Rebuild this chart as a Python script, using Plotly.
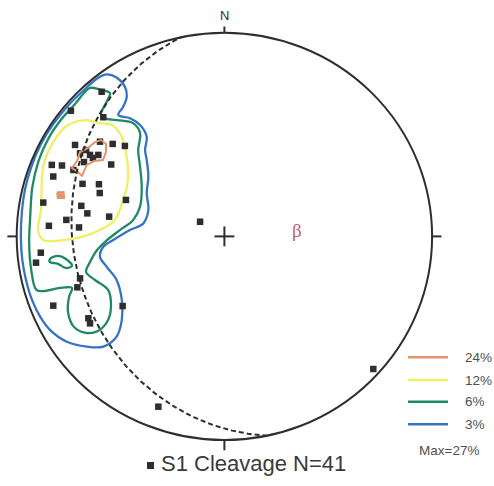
import numpy as np
import plotly.graph_objects as go

# ---- data -------------------------------------------------------------
# S1 cleavage poles on the lower-hemisphere equal-area net
# (east, north) in net units, primitive circle radius = 100
pole_east = [-59.1, -73.9, -58.3, -71.9, -59.9, -53.8, -47.9, -69.5, -64.7, -60.7,
             -83.1, -78.2, -72.7, -54.5, -82.4, -68.3, -60.4, -60.0, -78.9, -87.2,
             -68.9, -66.0, -47.4, -76.1, -55.5, -84.5, -70.0, -88.4, -90.7, -69.5,
             -70.8, -82.4, -49.0, -65.5, -64.7, -11.7, 71.7, -31.8, -66.6, -67.6,
             -63.3]
pole_north = [71.0, 61.7, 58.5, 44.9, 46.5, 45.4, 44.4, 40.8, 40.0, 40.0,
              35.1, 34.8, 32.6, 35.3, 29.4, 25.8, 25.6, 21.3, 20.3, 16.6,
              15.0, 11.3, 17.9, 8.1, 9.7, 5.2, 4.4, -8.0, -12.9, -20.6,
              -25.0, -34.0, -34.2, -40.2, -42.7, 7.2, -65.1, -83.6, 42.4, 36.5,
              38.5]

# density contour rings (east, north)
ring_3pct = [(-60.9, 77.8), (-56.7, 79.5), (-51.9, 78.0), (-47.9, 73.5), (-47.0, 68.6),
             (-48.7, 63.7), (-51.1, 59.6), (-45.5, 58.0), (-40.6, 54.7), (-37.4, 48.9),
             (-38.2, 42.4), (-37.4, 37.5), (-36.6, 29.3), (-37.4, 21.2), (-36.6, 13.0),
             (-39.0, 6.4), (-45.5, 3.1), (-53.5, -1.8), (-58.3, -5.1), (-59.9, -10.0),
             (-56.7, -14.9), (-51.9, -21.4), (-49.4, -31.2), (-49.4, -41.0), (-51.9, -49.2),
             (-58.3, -54.1), (-66.3, -54.1), (-75.9, -51.7), (-84.0, -45.9), (-88.5, -39.8),
             (-92.5, -31.5), (-95.5, -21.5), (-97.3, -11.5), (-98.0, 0.0), (-97.5, 12.0),
             (-96.0, 23.0), (-93.0, 34.0), (-88.5, 45.0), (-82.5, 55.0), (-75.0, 64.5),
             (-67.5, 72.0), (-60.9, 77.8)]
ring_6pct = [(-64.7, 72.9), (-59.4, 71.9), (-55.1, 70.4), (-57.0, 65.5), (-59.4, 60.1),
             (-58.0, 58.1), (-51.7, 57.1), (-44.0, 55.6), (-40.6, 50.8), (-41.5, 42.4),
             (-40.6, 34.2), (-39.8, 24.4), (-40.6, 14.6), (-43.9, 8.1), (-50.3, 3.1),
             (-56.5, -1.8), (-61.3, -6.7), (-64.7, -12.6), (-66.6, -17.5), (-62.3, -21.4),
             (-56.0, -26.3), (-54.6, -33.7), (-56.0, -41.0), (-60.9, -46.4), (-66.6, -47.4),
             (-72.4, -44.5), (-75.3, -37.1), (-74.8, -29.7), (-73.4, -25.3), (-79.2, -25.3),
             (-86.4, -26.8), (-90.5, -26.3), (-93.0, -16.5), (-94.0, -3.2), (-93.5, 9.5),
             (-92.5, 24.0), (-89.5, 37.0), (-84.5, 48.5), (-78.5, 57.5), (-71.5, 65.5),
             (-67.5, 70.5), (-64.7, 72.9)]
ring_6pct_inner = [(-84.0, -11.1), (-80.1, -9.6), (-76.3, -11.1), (-73.4, -14.5),
                   (-76.3, -15.5), (-80.1, -13.5), (-84.0, -12.6), (-84.0, -11.1)]
ring_12pct = [(-66.6, 57.1), (-59.9, 55.6), (-54.1, 54.7), (-49.4, 48.9), (-47.4, 40.9),
              (-46.4, 32.6), (-46.9, 24.3), (-49.3, 16.4), (-52.7, 8.1), (-59.9, 3.1),
              (-68.1, -0.1), (-77.7, -1.8), (-87.3, -1.8), (-89.7, 3.1), (-88.3, 13.0),
              (-88.0, 24.3), (-87.3, 34.1), (-84.0, 43.4), (-80.1, 49.8), (-75.3, 54.7),
              (-66.6, 57.1)]
ring_24pct = [(-62.3, 46.3), (-59.4, 47.3), (-57.0, 45.4), (-57.0, 41.4), (-58.5, 37.5),
              (-62.8, 37.0), (-66.2, 35.1), (-68.6, 29.7), (-70.5, 31.6), (-73.4, 33.6),
              (-71.0, 37.0), (-69.5, 41.4), (-65.7, 43.4), (-62.3, 46.3)]
ring_24pct_small = [(-80.5, 21.6), (-77.4, 21.8), (-77.2, 19.0), (-80.2, 18.8), (-80.5, 21.6)]

contour_labels = ["24%", "12%", "6%", "3%"]
contour_colors = ["#e0956a", "#eef064", "#1f8a62", "#3574c4"]

# best-fit girdle (pi-circle) and its pole beta
girdle_dip_direction = 258.0
girdle_dip = 28.0

max_density = "Max=27%"
data_label = "S1 Cleavage N=41"

# ---- equal-area projection --------------------------------------------
def project(trend, plunge):
    t = np.radians(trend)
    r = 100 * np.sqrt(2) * np.sin(np.radians(90 - np.asarray(plunge)) / 2)
    return r * np.sin(t), r * np.cos(t)


def great_circle(dip_direction, dip, n=181):
    dd = np.radians(dip_direction)
    d = np.radians(dip)
    s = dd - np.pi / 2
    strike_v = np.array([np.sin(s), np.cos(s), 0.0])
    dip_v = np.array([np.sin(dd) * np.cos(d), np.cos(dd) * np.cos(d), np.sin(d)])
    ang = np.linspace(0, np.pi, n)
    v = np.outer(np.cos(ang), strike_v) + np.outer(np.sin(ang), dip_v)
    plunge = np.degrees(np.arcsin(np.clip(v[:, 2], -1, 1)))
    trend = np.degrees(np.arctan2(v[:, 0], v[:, 1]))
    return project(trend, plunge)


W, H = 494, 486
ink = "#2e2e2e"
text_grey = "#505050"
fig = go.Figure()

# contours
rings = [
    (ring_3pct, contour_colors[3]),
    (ring_6pct, contour_colors[2]),
    (ring_6pct_inner, contour_colors[2]),
    (ring_12pct, contour_colors[1]),
]
for ring, col in rings:
    xs, ys = zip(*ring)
    fig.add_trace(go.Scatter(x=xs, y=ys, mode="lines", line=dict(color=col, width=2.3),
                             line_shape="spline", hoverinfo="skip", showlegend=False))

# poles
fig.add_trace(go.Scatter(x=pole_east, y=pole_north, mode="markers",
                         marker=dict(symbol="square", size=6.5, color=ink),
                         hoverinfo="skip", showlegend=False))

# 24% contours on top of the densest cluster
for ring, filled in [(ring_24pct, False), (ring_24pct_small, True)]:
    xs, ys = zip(*ring)
    fig.add_trace(go.Scatter(x=xs, y=ys, mode="lines", line=dict(color=contour_colors[0], width=2),
                             fill="toself" if filled else None,
                             fillcolor=contour_colors[0] if filled else None,
                             hoverinfo="skip", showlegend=False))

# girdle great circle
gx, gy = great_circle(girdle_dip_direction, girdle_dip)
fig.add_trace(go.Scatter(x=gx, y=gy, mode="lines",
                         line=dict(color=ink, width=2, dash="5px,3px"),
                         hoverinfo="skip", showlegend=False))

# primitive circle, cardinal ticks and centre cross
shapes = [dict(type="circle", xref="x", yref="y", x0=-100, x1=100, y0=-100, y1=100,
               line=dict(color=ink, width=2))]
for x0, y0, x1, y1 in [(0, 100, 0, 103), (0, -100, 0, -105), (-100, 0, -104.5, 0), (100, 0, 104.5, 0),
                       (-4.8, 0, 4.8, 0), (0, -4.9, 0, 4.9)]:
    shapes.append(dict(type="line", xref="x", yref="y", x0=x0, y0=y0, x1=x1, y1=y1,
                       line=dict(color=ink, width=2)))

# legend swatches
legend_y = [357.3, 380, 401.7, 424.3]
for lbl, col, py in zip(contour_labels, contour_colors, legend_y):
    yp = 1 - py / H
    shapes.append(dict(type="line", xref="paper", yref="paper", x0=408 / W, x1=448 / W,
                       y0=yp, y1=yp, line=dict(color=col, width=2.5)))
# symbol for the data label
shapes.append(dict(type="rect", xref="paper", yref="paper", x0=147 / W, x1=154 / W,
                   y0=1 - 469 / H, y1=1 - 462 / H, fillcolor=ink, line=dict(width=0)))

annotations = [
    dict(x=0, y=108.5, xref="x", yref="y", text="N", showarrow=False,
         font=dict(family="Arial, Liberation Sans", size=13, color=ink)),
]
bx, by = project(girdle_dip_direction - 180, 90 - girdle_dip)
annotations.append(dict(x=float(bx), y=float(by), xref="x", yref="y", text="β", showarrow=False,
                        xshift=3, yshift=-9,
                        font=dict(family="Liberation Serif, Times New Roman", size=19, color="#c0606e")))
for lbl, py in zip(contour_labels, legend_y):
    annotations.append(dict(x=463 / W, y=1 - py / H, xref="paper", yref="paper", text=lbl,
                            showarrow=False, xanchor="left", yanchor="middle",
                            font=dict(family="Arial, Liberation Sans", size=13.5, color=text_grey)))
annotations.append(dict(x=448.5 / W, y=1 - 450 / H, xref="paper", yref="paper", text=max_density,
                        showarrow=False, xanchor="center", yanchor="middle",
                        font=dict(family="Arial, Liberation Sans", size=13.5, color=text_grey)))
annotations.append(dict(x=159 / W, y=1 - 463 / H, xref="paper", yref="paper", text=data_label,
                        showarrow=False, xanchor="left", yanchor="middle",
                        font=dict(family="Arial, Liberation Sans", size=22, color="#3a3a3a")))

sx, sy = 2.077, 2.037
cx, cy = 224.4, 236.4
fig.update_layout(
    width=W, height=H, margin=dict(l=0, r=0, t=0, b=0),
    paper_bgcolor="white", plot_bgcolor="white",
    xaxis=dict(range=[-cx / sx, (W - cx) / sx], visible=False, fixedrange=True),
    yaxis=dict(range=[(cy - H) / sy, cy / sy], visible=False, fixedrange=True),
    shapes=shapes, annotations=annotations, showlegend=False,
)
fig.write_html("out.html")
